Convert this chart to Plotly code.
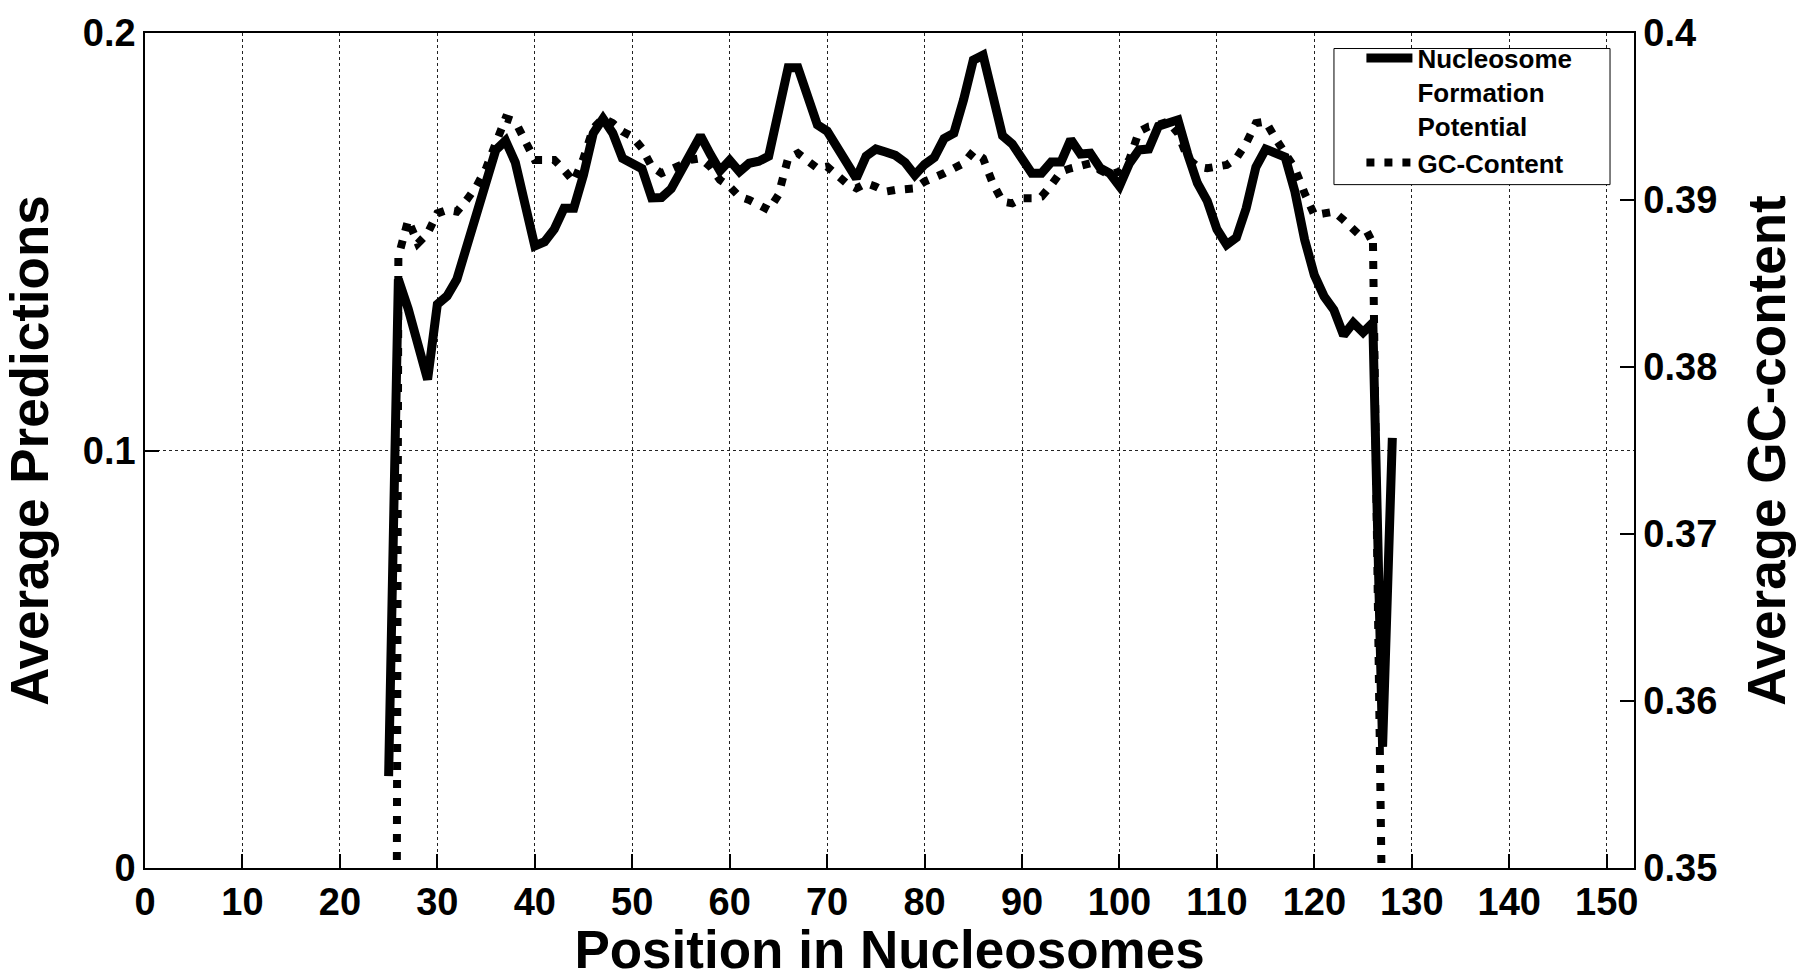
import plotly.graph_objects as go

# ---- data ----
positions_nfp = list(range(25, 129))
nucleosome_potential = [
    0.022, 0.141, 0.134, 0.126, 0.117, 0.135, 0.137, 0.141, 0.149, 0.157,
    0.165, 0.172, 0.1742, 0.169, 0.159, 0.149, 0.150, 0.153, 0.158, 0.158,
    0.166, 0.176, 0.1795, 0.176, 0.170, 0.169, 0.1675, 0.1605, 0.1606, 0.1627,
    0.167, 0.171, 0.1754, 0.171, 0.167, 0.1695, 0.1668, 0.1688, 0.1693, 0.1705,
    0.181, 0.1917, 0.1917, 0.184, 0.178, 0.1765, 0.173, 0.169, 0.1652, 0.1705,
    0.1722, 0.1715, 0.1707, 0.169, 0.166, 0.1685, 0.1702, 0.1747, 0.1760, 0.184,
    0.1935, 0.1947, 0.184, 0.1754, 0.1734, 0.170, 0.1664, 0.1664, 0.1691, 0.1691,
    0.1745, 0.1710, 0.1712, 0.1677, 0.1664, 0.1633, 0.1687, 0.172, 0.1722, 0.1777,
    0.1785, 0.1792, 0.171, 0.164, 0.1598, 0.153, 0.1493, 0.1510, 0.158, 0.1679,
    0.1722, 0.1715, 0.1703, 0.162, 0.1505, 0.142, 0.1369, 0.1337, 0.1276, 0.1306,
    0.1283, 0.1306, 0.029, 0.103,
]

positions_gc = list(range(25, 128))
gc_content = [
    0.15, 0.3866, 0.3888, 0.3874, 0.3880, 0.3892, 0.3894, 0.3893, 0.3900, 0.3908,
    0.3919, 0.3935, 0.3949, 0.3947, 0.3936, 0.3924, 0.3924, 0.3924, 0.3918, 0.3911,
    0.3925, 0.3943, 0.3949, 0.3946, 0.3941, 0.3938, 0.3931, 0.3920, 0.3916, 0.3918,
    0.3921, 0.3924, 0.3925, 0.3920, 0.3912, 0.3908, 0.3902, 0.3900, 0.3897, 0.3894,
    0.3903, 0.3925, 0.3928, 0.3923, 0.3919, 0.3920, 0.3915, 0.3910, 0.3907, 0.3910,
    0.3908, 0.3905, 0.3906, 0.3906, 0.3907, 0.3911, 0.3913, 0.3916, 0.3919, 0.3922,
    0.3929, 0.3925, 0.3910, 0.3899, 0.3898, 0.3901, 0.3901, 0.3902, 0.3909, 0.3917,
    0.3919, 0.3921, 0.3922, 0.3918, 0.3915, 0.3917, 0.3924, 0.3941, 0.3944, 0.3945,
    0.3947, 0.3940, 0.3925, 0.3920, 0.3919, 0.3920, 0.3921, 0.3925, 0.3934, 0.3946,
    0.3947, 0.3937, 0.3929, 0.3919, 0.3904, 0.3891, 0.3892, 0.3893, 0.3888, 0.3882,
    0.3877, 0.3880, 0.345,
]

x_ticks = [0, 10, 20, 30, 40, 50, 60, 70, 80, 90, 100, 110, 120, 130, 140, 150]
x_tick_labels = [str(v) for v in x_ticks]
left_ticks = [0, 0.1, 0.2]
left_tick_labels = ["0", "0.1", "0.2"]
right_ticks = [0.35, 0.36, 0.37, 0.38, 0.39, 0.40]
right_tick_labels = ["0.35", "0.36", "0.37", "0.38", "0.39", "0.4"]

FONT = "Liberation Sans, Arial, Helvetica, sans-serif"

fig = go.Figure()
fig.add_trace(go.Scatter(
    x=positions_nfp, y=nucleosome_potential, mode="lines",
    name="Nucleosome<br>Formation<br>Potential",
    line=dict(color="black", width=9), yaxis="y",
))
fig.add_trace(go.Scatter(
    x=positions_gc, y=gc_content, mode="lines",
    name="GC-Content",
    line=dict(color="black", width=8, dash="8px,10px"), yaxis="y2",
))

axis_font = dict(family=FONT, size=38, color="black", weight="bold")
title_font = dict(family=FONT, size=53, color="black", weight="bold")

fig.update_layout(
    width=1800, height=979,
    margin=dict(l=145, r=166, t=22, b=98),
    paper_bgcolor="white", plot_bgcolor="white",
    showlegend=True,
    legend=dict(
        x=0.962, y=0.998, xanchor="right", yanchor="top",
        bgcolor="rgba(0,0,0,0)", borderwidth=0,
        font=dict(family=FONT, size=26, color="black", weight="bold"),
        itemwidth=46, valign="top", tracegroupgap=0,
    ),
    shapes=[dict(
        type="rect", xref="paper", yref="paper",
        x0=0.7985, x1=0.9839, y0=0.8184, y1=0.9814,
        line=dict(color="black", width=1), fillcolor="white", layer="above",
    )],
    xaxis=dict(
        range=[0, 152.8], tickvals=x_ticks, ticktext=x_tick_labels,
        tickfont=axis_font, ticks="inside", ticklen=14, tickwidth=1.5,
        tickcolor="black", showline=True, linecolor="black", linewidth=1.5,
        mirror=True, showgrid=True, gridcolor="#222222", gridwidth=1,
        griddash="dot", zeroline=False,
        title=dict(text="Position in Nucleosomes", font=title_font, standoff=7),
    ),
    yaxis=dict(
        range=[0, 0.2], tickvals=left_ticks, ticktext=left_tick_labels,
        tickfont=axis_font, ticks="inside", ticklen=14, tickwidth=1.5,
        tickcolor="black", showline=True, linecolor="black", linewidth=1.5,
        showgrid=True, gridcolor="#222222", gridwidth=1, griddash="dot",
        zeroline=False,
        title=dict(text="Average Predictions", font=title_font, standoff=26),
    ),
    yaxis2=dict(
        range=[0.35, 0.40], tickvals=right_ticks, ticktext=right_tick_labels,
        tickfont=axis_font, ticks="inside", ticklen=14, tickwidth=1.5,
        tickcolor="black", showline=True, linecolor="black", linewidth=1.5,
        overlaying="y", side="right", showgrid=False, zeroline=False,
        title=dict(text="Average GC-content", font=title_font, standoff=32),
    ),
)

fig.write_html("out.html")
